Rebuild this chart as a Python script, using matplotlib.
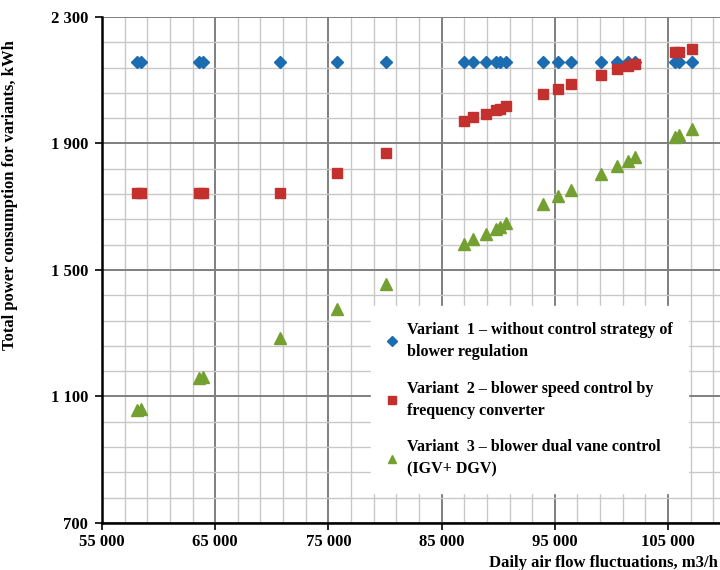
import numpy as np
import matplotlib
matplotlib.use("Agg")
import matplotlib.pyplot as plt
from matplotlib.ticker import FixedLocator, FuncFormatter

plt.rcParams["font.family"] = ["Liberation Serif", "DejaVu Serif"]
plt.rcParams["font.weight"] = "bold"

# débit d'air journalier (m3/h)
flow = [58100, 58400, 63600, 63900, 70700, 75800, 80100,
        87000, 87800, 88900, 89800, 90200, 90700,
        94000, 95300, 96400,
        99100, 100500, 101500, 102100,
        105600, 106000, 107100]

# variante 1 : sans régulation
v1 = [2157] * len(flow)
# variante 2 : variateur de fréquence
v2 = [1744, 1744, 1744, 1744, 1744, 1806, 1869,
      1971, 1983, 1993, 2006, 2010, 2019,
      2058, 2073, 2088,
      2118, 2136, 2145, 2151,
      2188, 2190, 2199]
# variante 3 : double aubage IGV + DGV
v3 = [1058, 1060, 1160, 1163, 1285, 1378, 1456,
      1581, 1597, 1615, 1630, 1636, 1648,
      1709, 1734, 1753,
      1804, 1830, 1845, 1856,
      1922, 1926, 1947]

labels = ["Variant  1 \u2013 without control strategy of\nblower regulation",
          "Variant  2 \u2013 blower speed control by\nfrequency converter",
          "Variant  3 \u2013 blower dual vane control\n(IGV+ DGV)"]

fig = plt.figure(figsize=(7.2, 5.7), dpi=100)
ax = fig.add_axes([0.1417, 0.0825, 0.8647, 0.8877])

ax.plot(flow, v1, "D", color="#1b6cb1", markersize=6.5, label=labels[0], zorder=3)
ax.plot(flow, v2, "s", color="#c3302e", markersize=7, label=labels[1], zorder=3)
ax.plot(flow, v3, "^", color="#74a032", markersize=8.5, label=labels[2], zorder=3)

ax.set_xlim(55000, 110000)
ax.set_ylim(700, 2300)
ax.xaxis.set_major_locator(FixedLocator(np.arange(55000, 110001, 10000)))
ax.xaxis.set_minor_locator(FixedLocator(np.arange(55000, 110001, 2000)))
ax.yaxis.set_major_locator(FixedLocator(np.arange(700, 2301, 400)))
ax.yaxis.set_minor_locator(FixedLocator(np.arange(700, 2301, 80)))
fmt = FuncFormatter(lambda v, p: f"{int(v):,}".replace(",", " "))
ax.xaxis.set_major_formatter(fmt)
ax.yaxis.set_major_formatter(fmt)

ax.grid(which="major", color="#7f7f7f", linewidth=1.4)
ax.grid(which="minor", color="#c8c8c8", linewidth=1.0)
ax.set_axisbelow(True)

for s in ["top", "right"]:
    ax.spines[s].set_visible(False)
for s in ["left", "bottom"]:
    ax.spines[s].set_linewidth(1.8)
    ax.spines[s].set_color("black")
    ax.spines[s].set_zorder(4)

ax.tick_params(which="major", length=5, width=1.2, labelsize=12, pad=5)
ax.tick_params(axis="x", which="major", pad=3)
ax.tick_params(which="minor", length=0)
for t in ax.get_xticklabels() + ax.get_yticklabels():
    t.set_fontweight("bold")

ax.set_ylabel("Total power consumption for variants, kWh", fontsize=12, fontweight="bold")
ax.yaxis.set_label_coords(-0.135, 0.648)
fig.text(0.997, -0.002, "Daily air flow fluctuations, m3/h", ha="right", va="bottom",
         fontsize=12, fontweight="bold")

leg = ax.legend(loc="upper left", bbox_to_anchor=(0.42, 0.445), frameon=True,
                fancybox=False, framealpha=1, edgecolor="white",
                prop={"family": "Liberation Serif", "weight": "bold", "size": 11.5},
                handlelength=0.6, handletextpad=0.6, labelspacing=1.3,
                borderpad=1.0, markerscale=0.75)
for t in leg.get_texts():
    t.set_linespacing(1.5)
leg.set_zorder(5)

fig.savefig("out.png", dpi=100)
